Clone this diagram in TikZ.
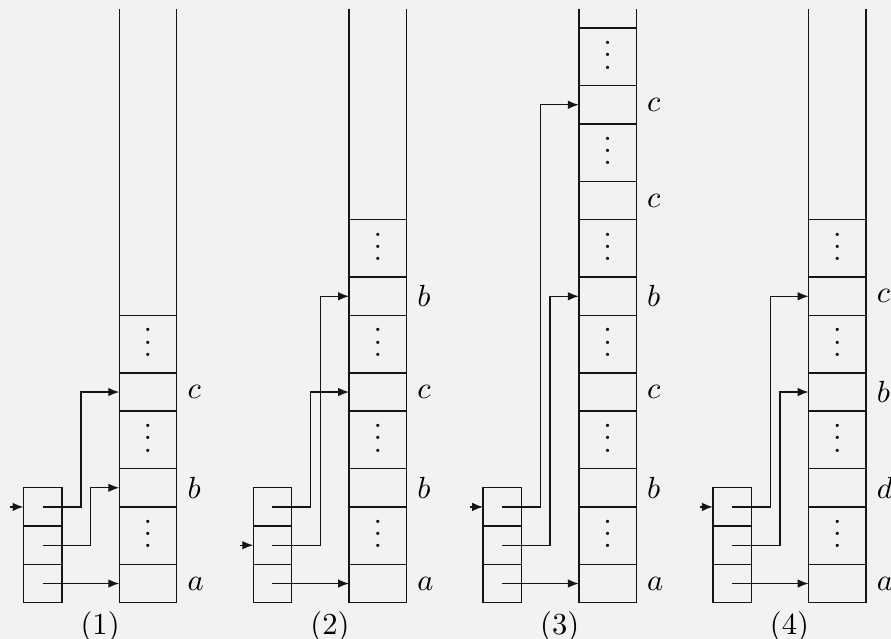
\documentclass[tikz,border=0pt]{standalone}
\usepackage{amsmath,amssymb}
\usepackage{xcolor}
\usepackage{tikz}
\usetikzlibrary{calc,arrows.meta}
\definecolor{paper}{HTML}{F2F2F2}
\definecolor{ink}{HTML}{151515}
\newlength\cu
\setlength\cu{0.44cm}
\tikzset{
  cell/.style={draw=ink, line width=0.45pt, minimum width=\cu, minimum height=\cu, inner sep=0pt, outer sep=0pt},
  slot/.style={cell, minimum width=1.5\cu},
  gap/.style={slot, minimum height=1.5\cu, text height=8pt, text depth=0pt},
  wall/.style={draw=ink, line width=0.45pt},
  ptr/.style={draw=ink, line width=0.45pt, -{Latex[length=3.6pt,width=2.8pt]}},
  lab/.style={text=black},
}

\begin{document}
\begin{tikzpicture}[x=\cu, y=\cu]
  \fill[paper] (-0.614,-0.948) rectangle (22.65,15.736);
  \useasboundingbox (-0.614,-0.948) rectangle (22.65,15.736);

  % panel / slot labels / targets of top and middle entries / incoming entry
  \foreach \p/\labs/\tgtA/\tgtB/\entry in
      {1/{a,b,c}/3/2/3, 2/{a,b,c,b}/3/4/2, 3/{a,b,c,b,c,c}/6/4/3, 4/{a,d,b,c}/4/3/3} {
    \begin{scope}[shift={(6*\p-6,0)}]
      % small table of three entries
      \foreach \j in {1,2,3}
        \node[cell] (s\p-\j) at (0.5,\j-0.5) {};

      % the column: a named slot, then a run of unknown slots
      \foreach \l [count=\k] in \labs {
        \node[slot,label={[lab]right:$\l$}] (c\p-\k) at (3.25,2.5*\k-2) {};
        \node[gap] (d\p-\k) at (3.25,2.5*\k-0.75) {$\vdots$};
        \xdef\last{\k}
      }
      \coordinate (t\p) at (3.25,15.5);
      \draw[wall] (d\p-\last.north west) -- (d\p-\last.north west |- t\p)
                  (d\p-\last.north east) -- (d\p-\last.north east |- t\p);

      % pointers
      \draw[ptr] (s\p-3.center) -- ++(1,0) |- (c\p-\tgtA.west);
      \draw[ptr] (s\p-2.center) -- ++(1.25,0) |- (c\p-\tgtB.west);
      \draw[ptr] (s\p-1.center) -- (c\p-1.west);
      \coordinate (e\p) at ($(s\p-\entry.west)+(-0.35,0)$);
      \draw[ptr] (e\p) -- (s\p-\entry.west);

      \node (n\p) at (2,-0.635) {(\p)};
    \end{scope}
  }
\end{tikzpicture}
\end{document}
